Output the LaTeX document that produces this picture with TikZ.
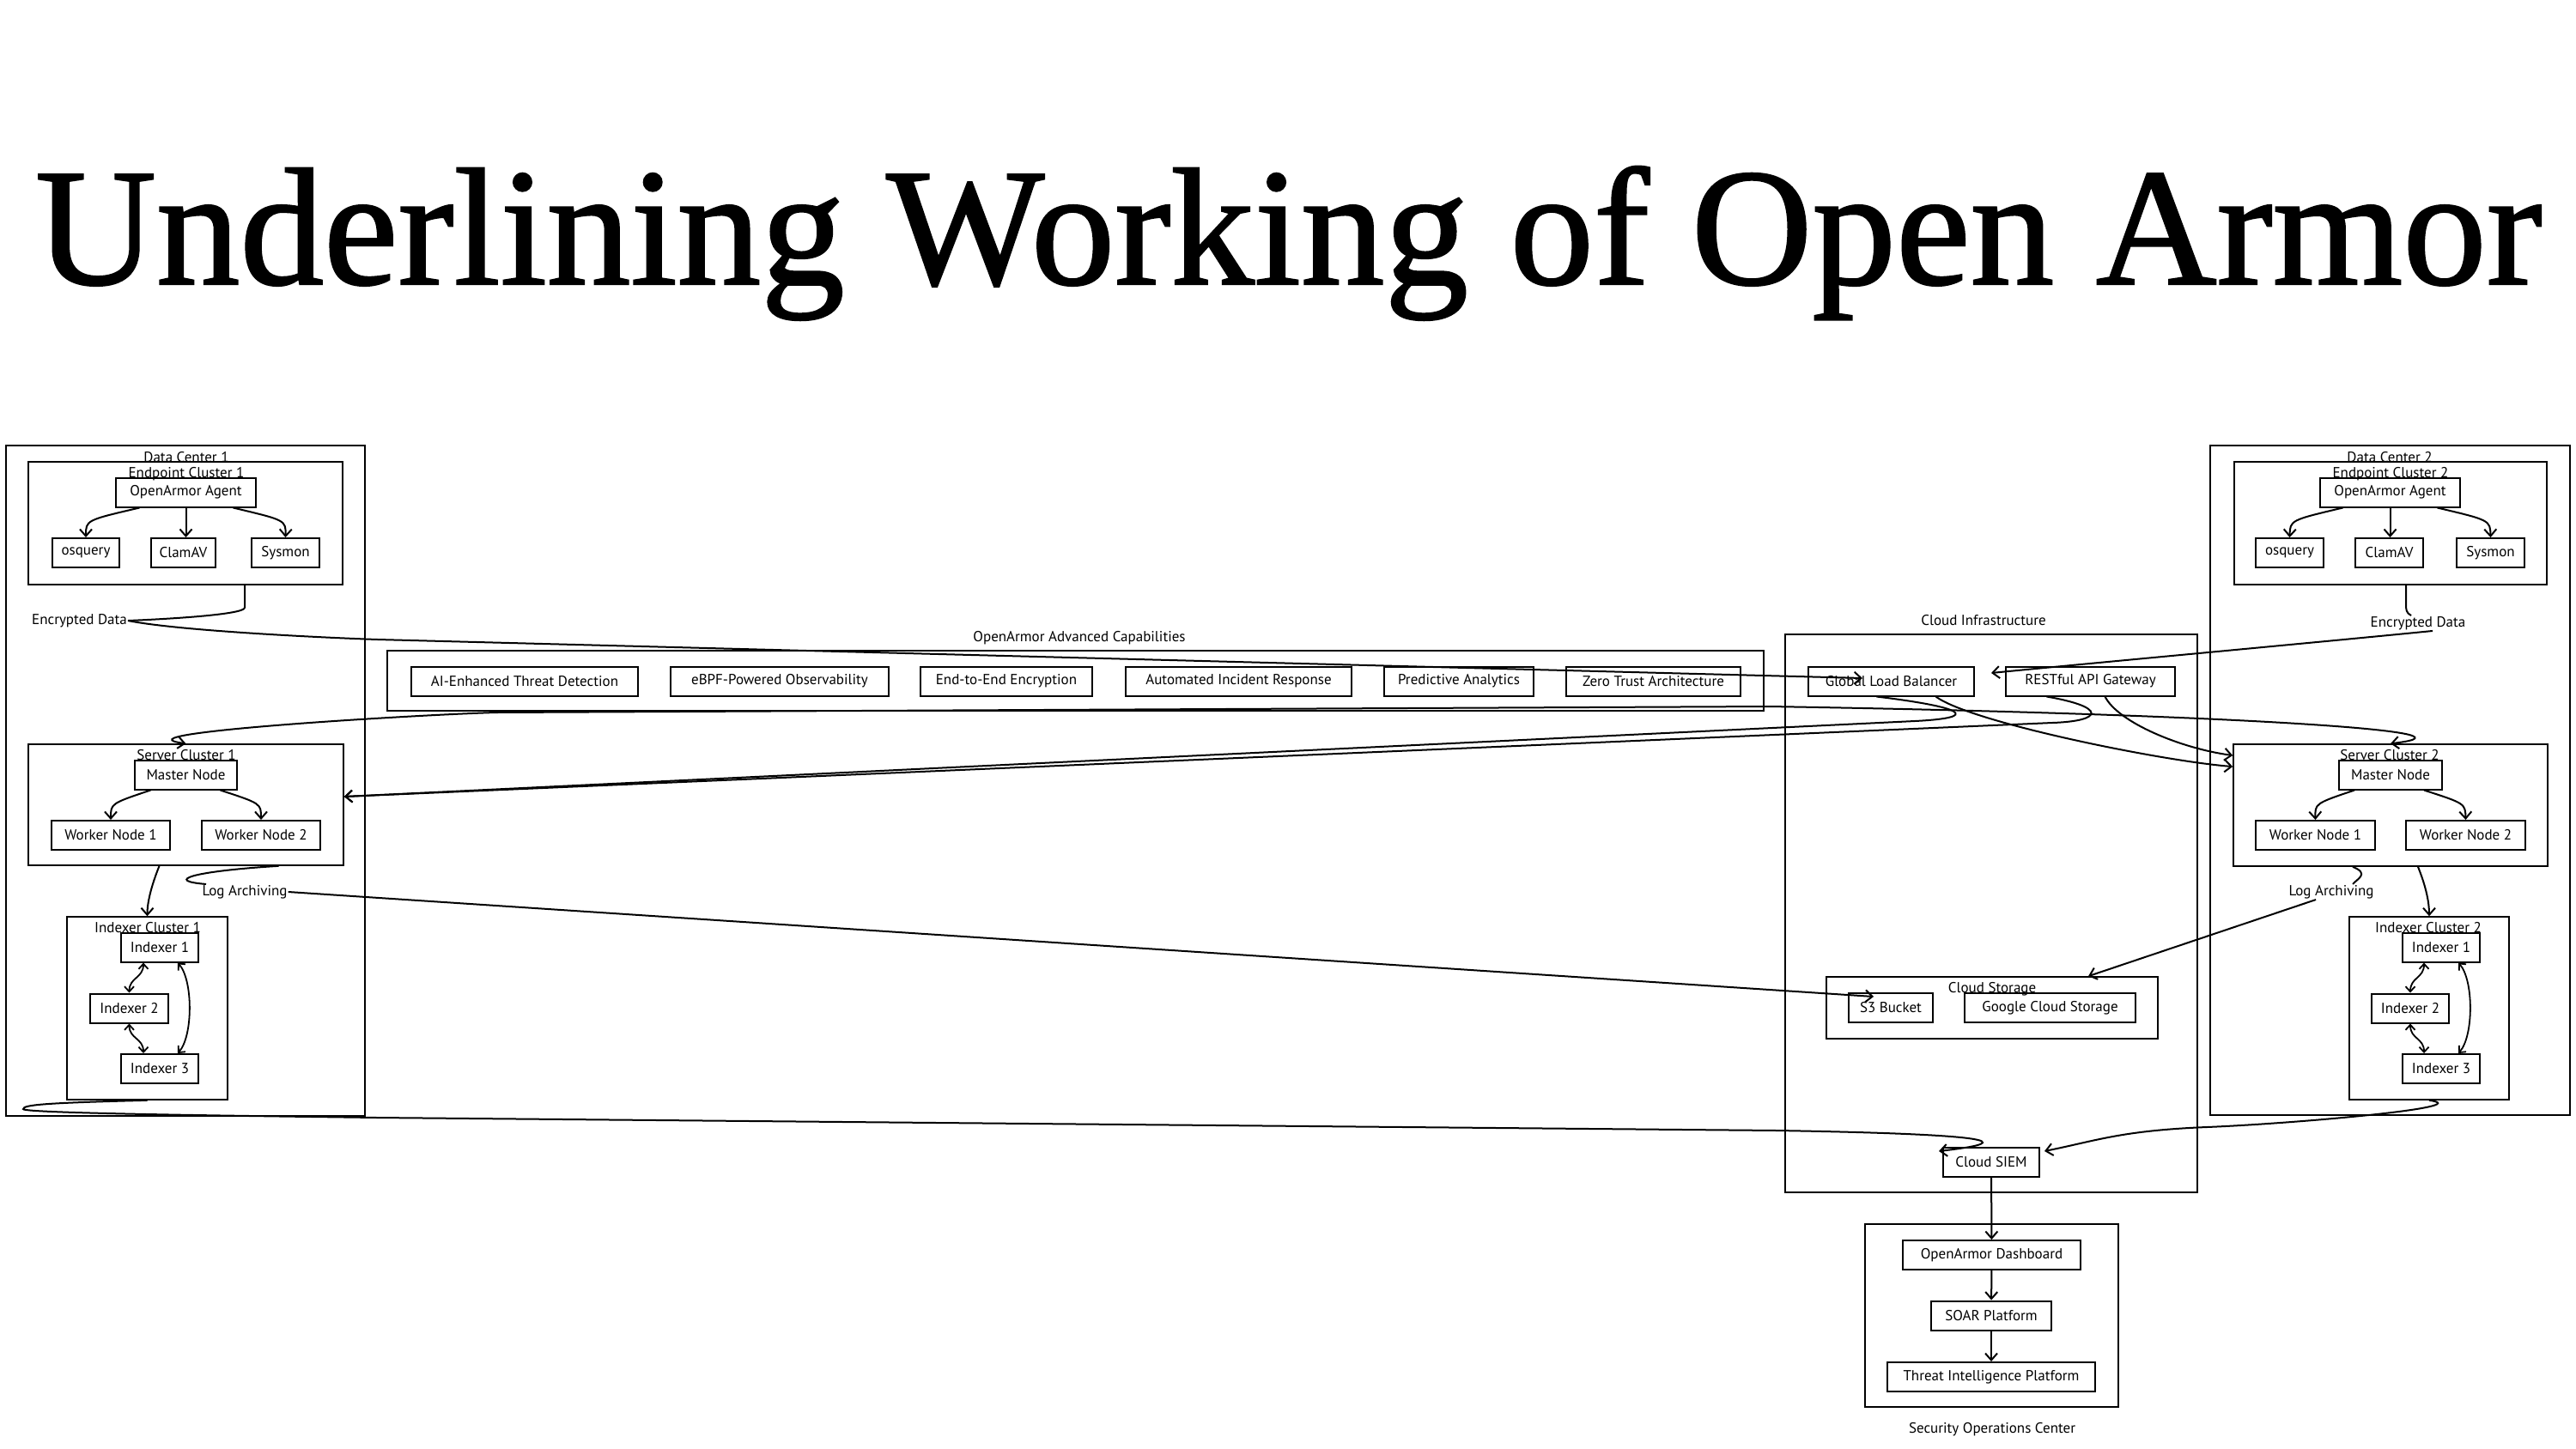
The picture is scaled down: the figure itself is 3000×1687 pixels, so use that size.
\documentclass[tikz,border=0pt]{standalone}
\usepackage{fontspec}
\newfontfamily\handfont{PT Sans}
\newfontfamily\titlefont[FakeBold=1.2]{Liberation Serif}
\usetikzlibrary{arrows.meta}
\begin{document}
\begin{tikzpicture}
	[x=1pt,y=-1pt,
	every node/.style={inner sep=0pt},
	group/.style={draw,line width=1.6pt},
	box/.style={draw,line width=2pt,minimum height=34,font=\handfont\fontsize{17}{19}\selectfont},
	lbl/.style={font=\handfont\fontsize{17}{19}\selectfont,inner sep=1pt},
	line/.style={draw,line width=2pt},
	link/.style={draw,line width=2pt,-{Straight Barb[length=8pt,width=14pt]}},
	both/.style={draw,line width=2pt,{Straight Barb[length=8pt,width=14pt]}-{Straight Barb[length=8pt,width=14pt]}},
	sync/.style={draw,line width=1.8pt,{Straight Barb[length=6pt,width=11pt]}-{Straight Barb[length=6pt,width=11pt]}}]
	\useasboundingbox (0,0) rectangle (3000,1687);
	\node[font=\titlefont\fontsize{195}{200}\selectfont,anchor=base] (title) at (1501,331) {Underlining Working of Open Armor};

	\node[group,minimum width=418,minimum height=781] (dc1) at (216,909.5) {};
	\node[group,minimum width=366,minimum height=143] (ec1) at (216,609.5) {};
	\node[group,minimum width=367,minimum height=141] (sc1) at (216.5,937.5) {};
	\node[group,minimum width=187,minimum height=213] (ic1) at (171.5,1174.5) {};
	\node[group,minimum width=419,minimum height=780] (dc2) at (2783.5,909) {};
	\node[group,minimum width=364,minimum height=143] (ec2) at (2784,609.5) {};
	\node[group,minimum width=366,minimum height=142] (sc2) at (2784,938) {};
	\node[group,minimum width=186,minimum height=213] (ic2) at (2829,1174.5) {};
	\node[group,minimum width=1603,minimum height=70] (caps) at (1252.5,793) {};
	\node[group,minimum width=480,minimum height=650] (cloud) at (2319,1064) {};
	\node[group,minimum width=386,minimum height=72] (cs) at (2320,1174) {};
	\node[group,minimum width=295,minimum height=213] (soc) at (2319.5,1532.5) {};

	\node[lbl] (dc1t) at (217,533) {Data Center 1};
	\node[lbl] (ec1t) at (217,552) {Endpoint Cluster 1};
	\node[lbl] (sc1t) at (217,880) {Server Cluster 1};
	\node[lbl] (ic1t) at (172,1081) {Indexer Cluster 1};
	\node[lbl] (dc2t) at (2783,533) {Data Center 2};
	\node[lbl] (ec2t) at (2784,552) {Endpoint Cluster 2};
	\node[lbl] (sc2t) at (2783,880) {Server Cluster 2};
	\node[lbl] (ic2t) at (2828,1081) {Indexer Cluster 2};
	\node[lbl] (capst) at (1257,743) {OpenArmor Advanced Capabilities};
	\node[lbl] (cloudt) at (2310,723) {Cloud Infrastructure};
	\node[lbl] (cst) at (2320,1152) {Cloud Storage};
	\node[lbl] (soct) at (2320,1665) {Security Operations Center};
	\node[lbl] (ed1) at (92.5,723) {Encrypted Data};
	\node[lbl] (ed2) at (2816,726) {Encrypted Data};
	\node[lbl] (la1) at (285,1039) {Log Archiving};
	\node[lbl] (la2) at (2715,1039) {Log Archiving};

	\node[box,minimum width=163] (agent1) at (216.5,573.5) {OpenArmor Agent};
	\node[box,minimum width=78] (osq1) at (100,644) {osquery};
	\node[box,minimum width=75] (clam1) at (213.5,644) {ClamAV};
	\node[box,minimum width=79] (sys1) at (332.5,644) {Sysmon};
	\node[box,minimum width=119] (master1) at (216.5,902.5) {Master Node};
	\node[box,minimum width=138] (worker11) at (129,973) {Worker Node 1};
	\node[box,minimum width=138] (worker12) at (304,973) {Worker Node 2};
	\node[box,minimum width=90] (idx11) at (186,1103.5) {Indexer 1};
	\node[box,minimum width=91] (idx12) at (150.5,1174.5) {Indexer 2};
	\node[box,minimum width=90] (idx13) at (186,1245) {Indexer 3};

	\node[box,minimum width=163] (agent2) at (2783.5,573.5) {OpenArmor Agent};
	\node[box,minimum width=79] (osq2) at (2666.5,644) {osquery};
	\node[box,minimum width=79] (clam2) at (2782.5,644) {ClamAV};
	\node[box,minimum width=79] (sys2) at (2900.5,644) {Sysmon};
	\node[box,minimum width=120] (master2) at (2784,902.5) {Master Node};
	\node[box,minimum width=139] (worker21) at (2696.5,973) {Worker Node 1};
	\node[box,minimum width=139] (worker22) at (2871.5,973) {Worker Node 2};
	\node[box,minimum width=90] (idx21) at (2843,1103.5) {Indexer 1};
	\node[box,minimum width=90] (idx22) at (2807,1174.5) {Indexer 2};
	\node[box,minimum width=90] (idx23) at (2843,1245) {Indexer 3};

	\node[box,minimum width=264] (ai) at (611,793.5) {AI-Enhanced Threat Detection};
	\node[box,minimum width=254] (ebpf) at (908,793.5) {eBPF-Powered Observability};
	\node[box,minimum width=200] (e2e) at (1172,793.5) {End-to-End Encryption};
	\node[box,minimum width=263] (air) at (1442.5,793.5) {Automated Incident Response};
	\node[box,minimum width=174] (pred) at (1699,793.5) {Predictive Analytics};
	\node[box,minimum width=203] (zta) at (1925.5,793.5) {Zero Trust Architecture};

	\node[box,minimum width=193] (glb) at (2202.5,793.5) {Global Load Balancer};
	\node[box,minimum width=197] (api) at (2434.5,793.5) {RESTful API Gateway};
	\node[box,minimum width=98] (s3) at (2202,1174) {S3 Bucket};
	\node[box,minimum width=199] (gcs) at (2387.5,1174) {Google Cloud Storage};
	\node[box,minimum width=112] (siem) at (2319,1353.5) {Cloud SIEM};
	\node[box,minimum width=207] (dash) at (2319.5,1462) {OpenArmor Dashboard};
	\node[box,minimum width=140] (soar) at (2319,1532.5) {SOAR Platform};
	\node[box,minimum width=242] (tintel) at (2319,1604) {Threat Intelligence Platform};

	\draw[link] ([xshift=-54pt]agent1.south) .. controls (100,606) .. (osq1.north);
	\draw[link] (agent1.south) -- (agent1.south |- clam1.north);
	\draw[link] ([xshift=55pt]agent1.south) .. controls (333,606) .. (sys1.north);
	\draw[link] ([xshift=-55pt]agent2.south) .. controls (2667,606) .. (osq2.north);
	\draw[link] (agent2.south) -- (agent2.south |- clam2.north);
	\draw[link] ([xshift=55pt]agent2.south) .. controls (2900,606) .. (sys2.north);
	\draw[link] ([xshift=-41pt]master1.south) .. controls (129,936) .. (worker11.north);
	\draw[link] ([xshift=40pt]master1.south) .. controls (304,936) .. (worker12.north);
	\draw[link] ([xshift=-42pt]master2.south) .. controls (2696,936) .. (worker21.north);
	\draw[link] ([xshift=39pt]master2.south) .. controls (2871,936) .. (worker22.north);

	\draw[sync] ([xshift=-19pt]idx11.south) .. controls +(0,18) and +(0,-18) .. (idx12.north);
	\draw[sync] (idx12.south) .. controls +(0,18) and +(0,-18) .. ([xshift=-19pt]idx13.north);
	\draw[sync] ([xshift=21pt]idx11.south) .. controls +(18,20) and +(18,-20) .. ([xshift=21pt]idx13.north);
	\draw[sync] ([xshift=-20pt]idx21.south) .. controls +(0,18) and +(0,-18) .. (idx22.north);
	\draw[sync] (idx22.south) .. controls +(0,18) and +(0,-18) .. ([xshift=-20pt]idx23.north);
	\draw[sync] ([xshift=20pt]idx21.south) .. controls +(18,20) and +(18,-20) .. ([xshift=20pt]idx23.north);

	\draw[link] ([xshift=-31pt]sc1.south) .. controls +(-10,25) and +(0,-15) .. (ic1.north);
	\draw[link] ([xshift=32pt]sc2.south) .. controls +(10,25) and +(0,-15) .. (ic2.north);

	\draw[line] ([xshift=69pt]ec1.south) -- ++(0,26) .. controls +(0,8) and +(50,-2) .. (ed1.east);
	\draw[link] (ed1.east) .. controls +(60,12) and +(-60,-2) .. (440,745) -- ([xshift=64pt,yshift=3.5pt]glb.west);
	\draw[line] ([xshift=18pt]ec2.south) -- ++(0,22) .. controls +(0,6) and +(-6,-3) .. ([xshift=-8pt]ed2.north);
	\draw[link] ([xshift=17pt]ed2.south) .. controls +(-120,12) and +(80,-8) .. ([xshift=-16pt,yshift=9.5pt]api.west);

	\draw[link] ([xshift=-17pt]glb.south) .. controls +(100,12) and +(80,-4) .. (2230,840) -- ([yshift=9.5pt]sc1.east);
	\draw[link] ([xshift=-51pt]api.south) .. controls +(70,12) and +(60,-2) .. (2390,842) -- ([yshift=9.5pt]sc1.east);
	\draw[link] ([xshift=52pt]glb.south) .. controls +(40,30) and +(-80,-6) .. ([yshift=45pt]sc2.west);
	\draw[link] ([xshift=17pt]api.south) .. controls +(15,30) and +(-60,-8) .. ([yshift=58pt]sc2.west);
	\draw[both] (sc1.north) .. controls +(-90,-12) and +(-100,3) .. (577,830) -- (2060,823) .. controls +(500,8) and +(130,-15) .. (sc2.north);

	\draw[line] ([xshift=108pt]sc1.south) .. controls +(-100,6) and +(-50,-4) .. ([xshift=-45pt]la1.north);
	\draw[link] (la1.east) -- ([xshift=30pt,yshift=13pt]s3.west);
	\draw[line] ([xshift=-44pt]sc2.south) .. controls +(20,8) and +(5,-6) .. ([xshift=25pt]la2.north);
	\draw[link] ([xshift=-18pt]la2.south) -- ([xshift=112pt]cs.north);

	\draw[link] (ic1.south) .. controls +(-120,3) and +(0,-5) .. (27,1292) .. controls +(0,5) and +(-150,-2) .. (440,1302) -- (2070,1317) .. controls +(300,5) and +(70,-8) .. ([xshift=-4pt,yshift=12.5pt]siem.west);
	\draw[link] (ic2.south) .. controls +(60,8) and +(100,-4) .. (2570,1313) .. controls +(-100,4) and +(60,-12) .. ([xshift=5pt,yshift=12.5pt]siem.east);

	\path[link]
	(siem) edge (dash)
	(dash) edge (soar)
	(soar) edge (tintel);
\end{tikzpicture}
\end{document}
